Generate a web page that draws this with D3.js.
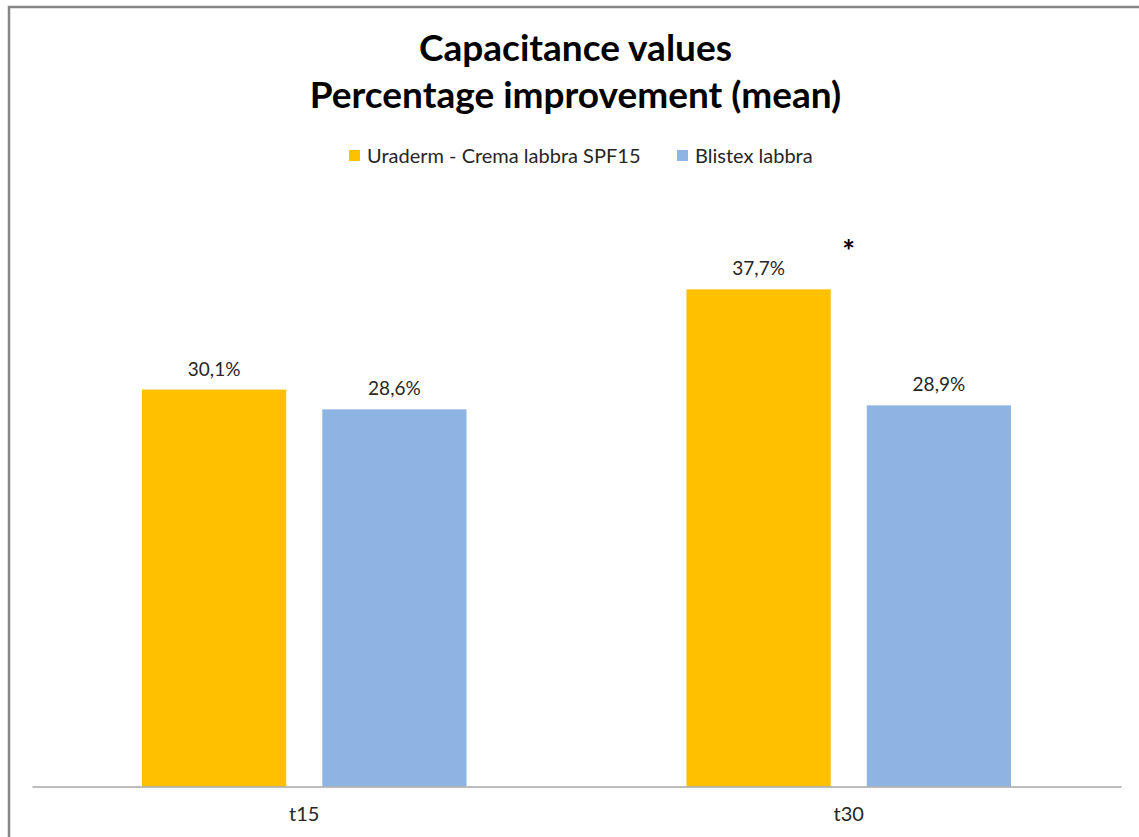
<!DOCTYPE html>
<html>
<head>
<meta charset="utf-8">
<script src="https://cdn.jsdelivr.net/npm/d3@7"></script>
<style>
  body { margin: 0; background: #fff; }
  text { font-family: Lato, "Open Sans", sans-serif; }
</style>
</head>
<body>
<div id="chart"></div>
<script>
var categories = ["t15", "t30"];
var seriesNames = ["Uraderm - Crema labbra SPF15", "Blistex labbra"];
var uradermValues = [30.1, 37.7];
var blistexValues = [28.6, 28.9];
var valueLabels = [["30,1%", "37,7%"], ["28,6%", "28,9%"]];
var colors = ["#FFC000", "#8EB4E3"];

var svgWidth = 1139;
var svgHeight = 837;

var margin = {
  top: 259,
  right: 18,
  bottom: 50.5,
  left: 32
};

var width = svgWidth - margin.left - margin.right;
var height = svgHeight - margin.top - margin.bottom;

var svg = d3.select("#chart")
  .append("svg")
  .attr("width", svgWidth)
  .attr("height", svgHeight);

// outer frame, cropped on right and bottom like the original
svg.append("rect")
  .attr("x", 9)
  .attr("y", 7)
  .attr("width", 1300)
  .attr("height", 1000)
  .attr("fill", "none")
  .attr("stroke", "#868686")
  .attr("stroke-width", 2.5);

// titles
svg.append("text")
  .attr("x", 575.5)
  .attr("y", 61)
  .attr("text-anchor", "middle")
  .attr("font-size", 37)
  .attr("font-weight", "bold")
  .attr("fill", "#000")
  .text("Capacitance values");

svg.append("text")
  .attr("x", 575.5)
  .attr("y", 108)
  .attr("text-anchor", "middle")
  .attr("font-size", 37)
  .attr("font-weight", "bold")
  .attr("fill", "#000")
  .text("Percentage improvement (mean)");

// legend
var legendX = [349, 677];
var legend = svg.selectAll(".legend")
  .data(seriesNames)
  .enter()
  .append("g")
  .attr("class", "legend")
  .attr("transform", (d, i) => `translate(${legendX[i]}, 150)`);

legend.append("rect")
  .attr("width", 11)
  .attr("height", 11)
  .attr("fill", (d, i) => colors[i]);

legend.append("text")
  .attr("x", 18)
  .attr("y", 12.5)
  .attr("font-size", 20)
  .attr("fill", "#262626")
  .text(d => d);

var chartGroup = svg.append("g")
  .attr("transform", `translate(${margin.left}, ${margin.top})`);

var x0 = d3.scaleBand()
  .domain(categories)
  .range([0, width]);

var x1 = d3.scaleBand()
  .domain(seriesNames)
  .range([0, x0.bandwidth()])
  .paddingInner(0.2)
  .paddingOuter(0.61);

var yLinearScale = d3.scaleLinear()
  .domain([0, 40])
  .range([height, 0]);

var seriesValues = [uradermValues, blistexValues];
var barData = [];
categories.forEach(function(c, ci) {
  seriesNames.forEach(function(s, si) {
    barData.push({
      category: c,
      series: s,
      si: si,
      value: seriesValues[si][ci],
      label: valueLabels[si][ci]
    });
  });
});

chartGroup.selectAll(".bar")
  .data(barData)
  .enter()
  .append("rect")
  .attr("class", "bar")
  .attr("x", d => x0(d.category) + x1(d.series))
  .attr("y", d => yLinearScale(d.value))
  .attr("width", x1.bandwidth())
  .attr("height", d => height - yLinearScale(d.value))
  .attr("fill", d => colors[d.si]);

chartGroup.selectAll(".value-label")
  .data(barData)
  .enter()
  .append("text")
  .attr("class", "value-label")
  .attr("x", d => x0(d.category) + x1(d.series) + x1.bandwidth() / 2)
  .attr("y", d => yLinearScale(d.value) - 14)
  .attr("text-anchor", "middle")
  .attr("font-size", 19)
  .attr("fill", "#262626")
  .text(d => d.label);

// significance marker on t30
chartGroup.append("text")
  .attr("x", x0("t30") + x0.bandwidth() / 2)
  .attr("y", yLinearScale(37.7) - 27)
  .attr("text-anchor", "middle")
  .attr("font-size", 30)
  .attr("font-weight", "bold")
  .attr("fill", "#000")
  .text("*");

// x axis
var bottomAxis = d3.axisBottom(x0)
  .tickSize(0)
  .tickPadding(20);

var xAxis = chartGroup.append("g")
  .attr("transform", `translate(0, ${height})`)
  .call(bottomAxis);

xAxis.select(".domain")
  .attr("stroke", "#A6A6A6")
  .attr("stroke-width", 1.5);

xAxis.selectAll("text")
  .attr("font-size", 20)
  .attr("font-family", "Lato, sans-serif")
  .attr("fill", "#262626");
</script>
</body>
</html>
